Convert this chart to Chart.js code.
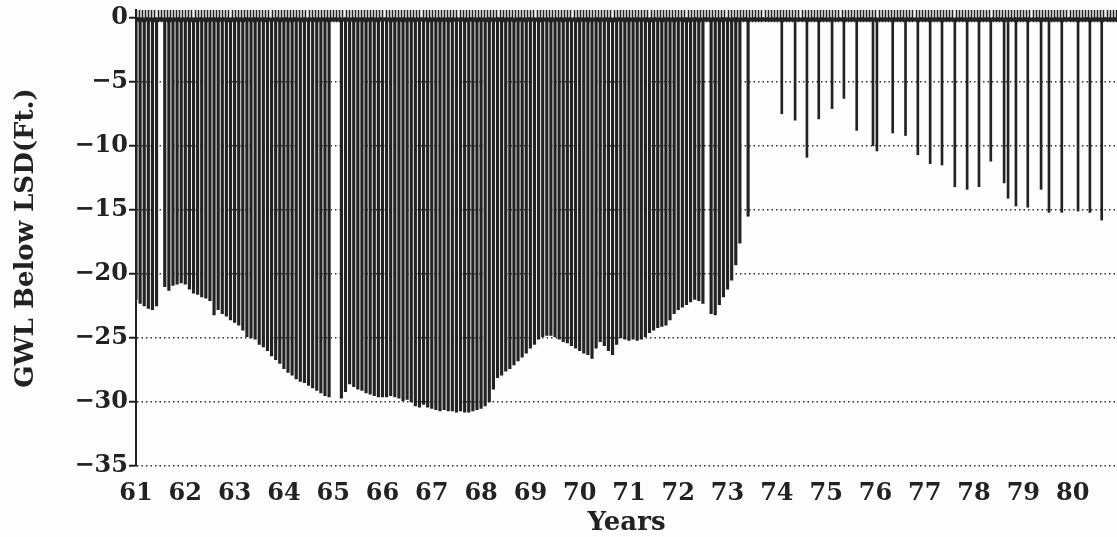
<!DOCTYPE html>
<html lang="en">
<head>
<meta charset="utf-8">
<title>GWL Below LSD</title>
<script src="https://cdn.jsdelivr.net/npm/chart.js@4.4.1/dist/chart.umd.min.js"></script>
<style>
  html, body { margin: 0; padding: 0; background: #fdfdfd; }
  #wrap { width: 1117px; height: 537px; }
</style>
</head>
<body>
<div id="wrap"><canvas id="gwlChart"></canvas></div>

<script>
// year tick labels
var yearTicks = [61, 62, 63, 64, 65, 66, 67, 68, 69, 70, 71, 72, 73, 74, 75, 76, 77, 78, 79, 80];

// monthly readings, 1961 - mid 1973 (null = no reading)
var gwl61 = [-22.0, -22.3, -22.5, -22.7, -22.8, -22.5, null, -21.0, -21.3, -20.9, -20.8, -20.7];
var gwl62 = [-20.8, -21.2, -21.5, -21.6, -21.8, -21.9, -22.1, -23.2, -22.8, -23.1, -23.3, -23.6];
var gwl63 = [-23.8, -24.0, -24.4, -24.9, -25.0, -25.1, -25.5, -25.7, -26.0, -26.4, -26.7, -27.0];
var gwl64 = [-27.4, -27.7, -27.9, -28.2, -28.4, -28.5, -28.7, -28.9, -29.1, -29.3, -29.5, -29.6];
var gwl65 = [null, null, -29.7, -29.2, -28.6, -28.8, -29.0, -29.1, -29.3, -29.4, -29.5, -29.6];
var gwl66 = [-29.6, -29.6, -29.5, -29.6, -29.7, -29.9, -29.8, -30.0, -30.3, -30.4, -30.2, -30.4];
var gwl67 = [-30.5, -30.6, -30.7, -30.6, -30.7, -30.7, -30.8, -30.7, -30.8, -30.8, -30.7, -30.6];
var gwl68 = [-30.5, -30.3, -30.0, -29.0, -28.1, -27.9, -27.6, -27.4, -27.1, -26.8, -26.5, -26.2];
var gwl69 = [-25.8, -25.5, -25.1, -24.9, -24.8, -24.8, -24.9, -25.1, -25.3, -25.4, -25.6, -25.8];
var gwl70 = [-26.0, -26.2, -26.3, -26.6, -25.8, -25.3, -25.6, -26.0, -26.3, -25.5, -25.0, -25.1];
var gwl71 = [-25.2, -25.1, -25.2, -25.1, -24.9, -24.6, -24.4, -24.2, -24.1, -24.0, -23.6, -23.1];
var gwl72 = [-22.8, -22.6, -22.4, -22.2, -22.0, -22.1, -22.3, null, -23.1, -23.2, -22.4, -21.8];
var gwl73 = [-21.2, -20.5, -19.3, -17.6, null, -15.5];
var monthlyRows = [gwl61, gwl62, gwl63, gwl64, gwl65, gwl66, gwl67, gwl68, gwl69, gwl70, gwl71, gwl72, gwl73];

// quarterly readings after 1974
var quarterYears = [74.10, 74.37, 74.61, 74.85, 75.12, 75.36, 75.62, 75.95, 76.03, 76.35, 76.61, 76.86,
                    77.11, 77.35, 77.61, 77.86, 78.10, 78.34, 78.61, 78.69, 78.85, 79.09, 79.36, 79.52,
                    79.78, 80.11, 80.35, 80.59];
var quarterGWL = [-7.5, -8.0, -10.9, -7.9, -7.1, -6.3, -8.8, -10.0, -10.4, -9.0, -9.2, -10.7,
                  -11.4, -11.5, -13.2, -13.4, -13.2, -11.2, -12.9, -14.1, -14.7, -14.8, -13.4, -15.2,
                  -15.2, -15.1, -15.2, -15.8];

var monthlyPts = [];
monthlyRows.forEach(function (row, r) {
  row.forEach(function (v, m) {
    if (v !== null) monthlyPts.push({ x: yearTicks[r] + m / 12, y: v });
  });
});
var quarterPts = quarterYears.map(function (yr, i) { return { x: yr, y: quarterGWL[i] }; });

var ink = '#222';
var serifFont = '"DejaVu Serif", serif';

// little comb of marks along the zero line, as in the plotter output
var zeroComb = {
  id: 'zeroComb',
  afterDatasetsDraw: function (chart) {
    var xs = chart.scales.x, ys = chart.scales.y, ctx = chart.ctx;
    var top = ys.getPixelForValue(0.6), bot = ys.getPixelForValue(-0.35);
    ctx.save();
    ctx.strokeStyle = ink;
    ctx.lineWidth = 1.6;
    ctx.beginPath();
    for (var t = xs.min; t <= xs.max; t += 1 / 16) {
      var px = Math.round(xs.getPixelForValue(t)) + 0.5;
      ctx.moveTo(px, top);
      ctx.lineTo(px, bot);
    }
    ctx.stroke();
    ctx.lineWidth = 4;
    ctx.beginPath();
    var yz = ys.getPixelForValue(-0.15);
    ctx.moveTo(xs.left, yz);
    ctx.lineTo(xs.right, yz);
    ctx.stroke();
    ctx.restore();
  }
};

new Chart('gwlChart', {
  type: 'bar',
  data: {
    datasets: [{
      data: monthlyPts,
      backgroundColor: ink,
      barThickness: 2.5,
      grouped: false
    }, {
      data: quarterPts,
      backgroundColor: ink,
      barThickness: 2,
      grouped: false
    }]
  },
  options: {
    responsive: true,
    maintainAspectRatio: false,
    animation: false,
    layout: { padding: { left: 13.5, right: 0, top: 10, bottom: 1 } },
    plugins: { legend: { display: false }, tooltip: { enabled: false } },
    scales: {
      x: {
        type: 'linear',
        offset: false,
        min: 61,
        max: 80.9,
        grid: { display: false, drawTicks: false },
        border: { display: false },
        ticks: {
          stepSize: 1,
          includeBounds: false,
          autoSkip: false,
          maxRotation: 0,
          padding: 16,
          color: ink,
          font: { family: serifFont, size: 24, weight: 'bold', lineHeight: 1 },
          callback: function (v) { return yearTicks.indexOf(v) >= 0 ? String(v) : ''; }
        },
        title: {
          display: true,
          text: 'Years',
          color: ink,
          padding: { top: -12, bottom: 0 },
          font: { family: serifFont, size: 26, weight: 'bold', lineHeight: 1 }
        }
      },
      y: {
        min: -35,
        max: 0.6,
        z: 1,
        grid: {
          color: '#333',
          lineWidth: 1.5,
          tickLength: 7,
          tickColor: ink,
          tickWidth: 2,
          tickBorderDash: []
        },
        border: { display: true, color: ink, width: 2, dash: [1.5, 3] },
        ticks: {
          stepSize: 5,
          includeBounds: false,
          padding: 1,
          color: ink,
          font: { family: serifFont, size: 24, weight: 'bold', lineHeight: 0.5 },
          callback: function (v) { return String(v).replace('-', '\u2212'); }
        },
        title: {
          display: true,
          text: 'GWL Below LSD(Ft.)',
          color: ink,
          padding: { top: 0, bottom: 34 },
          font: { family: serifFont, size: 26, weight: 'bold', lineHeight: 1 }
        }
      }
    }
  },
  plugins: [zeroComb]
});
</script>
</body>
</html>
